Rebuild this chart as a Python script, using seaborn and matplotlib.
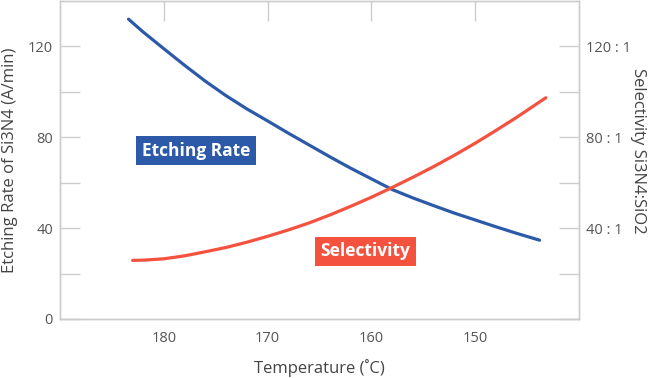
import numpy as np
import matplotlib
matplotlib.use('Agg')
import matplotlib.pyplot as plt
import pandas as pd
import seaborn as sns

# values
temp_etch = [183.4, 182, 180, 178, 176, 174, 172, 170, 168, 166, 164, 162,
             160, 158, 156, 154, 152, 150, 148, 146, 143.8]
etch_rate = [132.0, 126.4, 119.0, 111.7, 104.7, 98.3, 92.5, 87.2, 81.8, 76.6, 71.4, 66.4,
             61.7, 57.0, 53.3, 49.9, 46.6, 43.6, 40.6, 37.7, 34.7]

temp_sel = [183.0, 182, 180, 178, 176, 174, 172, 170, 168, 166, 164, 162,
            160, 158, 156, 154, 152, 150, 148, 146, 143.2]
selectivity = [25.8, 25.9, 26.5, 27.8, 29.6, 31.5, 33.8, 36.4, 39.2, 42.3, 45.8, 49.6,
               53.6, 57.9, 62.4, 67.1, 72.1, 77.4, 83.0, 88.8, 97.4]

x_ticks = [180, 170, 160, 150]
y_ticks = [0, 20, 40, 60, 80, 100, 120]
left_labels = ['0', '', '40', '', '80', '', '120']
right_labels = ['', '', '40 : 1', '', '80 : 1', '', '120 : 1']

blue = '#2c5aa8'
red = '#f5513f'
grey = '#cccccc'

sns.set_theme(style='white')
plt.rcParams['font.family'] = ['Open Sans', 'DejaVu Sans']

df_etch = pd.DataFrame({'temp': temp_etch, 'val': etch_rate})
df_sel = pd.DataFrame({'temp': temp_sel, 'val': selectivity})

fig = plt.figure(figsize=(6.53, 3.78), dpi=100)
ax = fig.add_axes([60/653, 1 - 319/378, 519/653, 318/378])
ax2 = ax.twinx()

sns.lineplot(data=df_etch, x='temp', y='val', ax=ax, color=blue, linewidth=2.3, sort=False)
sns.lineplot(data=df_sel, x='temp', y='val', ax=ax2, color=red, linewidth=2.3, sort=False)

ax.set_xlim(190, 140)
ax.set_ylim(0, 140)
ax2.set_ylim(0, 140)

ax.set_xticks(x_ticks)
ax.set_xticklabels([str(t) for t in x_ticks])
ax.set_yticks(y_ticks)
ax.set_yticklabels(left_labels)
ax2.set_yticks(y_ticks)
ax2.set_yticklabels(right_labels)

for a in (ax, ax2):
    for s in a.spines.values():
        s.set_color(grey)
        s.set_linewidth(1)
ax.tick_params(axis='both', direction='in', length=14.4, width=1, color=grey,
               labelsize=10.5, labelcolor='#555555', pad=5)
ax.tick_params(axis='x', top=True, pad=9)
ax2.tick_params(axis='y', direction='in', length=14.4, width=1, color=grey,
                labelsize=10.5, labelcolor='#555555', pad=5)

ax.set_xlabel('Temperature (˚C)', fontsize=12, color='#444444')
ax.xaxis.set_label_coords(0.5, -0.125)
ax.set_ylabel('Etching Rate of Si3N4 (A/min)', fontsize=12, color='#444444')
ax.yaxis.set_label_coords(-0.08, 0.5)
ax2.set_ylabel('Selectivity Si3N4:SiO2', fontsize=12, color='#444444', rotation=-90)
ax2.yaxis.set_label_coords(1.13, 0.53)

ax.text(176.9, 74.1, 'Etching Rate', ha='center', va='center', color='white',
        fontsize=12.5, fontweight='bold',
        bbox=dict(boxstyle='square,pad=0.32', fc=blue, ec='none'))
ax.text(160.6, 29.9, 'Selectivity', ha='center', va='center', color='white',
        fontsize=12.5, fontweight='bold',
        bbox=dict(boxstyle='square,pad=0.32', fc=red, ec='none'))

fig.savefig('out.png', dpi=100)
